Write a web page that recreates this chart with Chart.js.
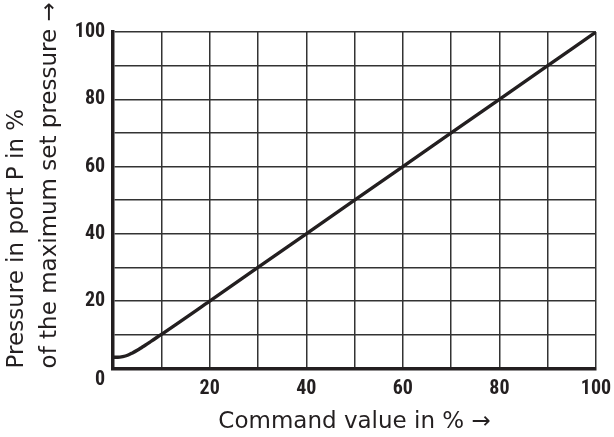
<!DOCTYPE html>
<html>
<head>
<meta charset="utf-8">
<script src="https://cdn.jsdelivr.net/npm/chart.js@4"></script>
<style>
  html, body { margin: 0; padding: 0; background: #fff; }
  #wrap { width: 614px; height: 437px; }
</style>
</head>
<body>
<div id="wrap"><canvas id="myChart"></canvas></div>
<script>
// command value (x) and pressure (y), both in %
const commandValues = [0, 1, 2, 3, 4, 5, 6, 7, 8, 10, 20, 30, 40, 50, 60, 70, 80, 90, 100];
const pressureValues = [3.3, 3.3, 3.5, 3.9, 4.6, 5.4, 6.3, 7.2, 8.2, 10.1, 20, 30, 40, 50, 60, 70, 80, 90, 100];
const tickLabels = ['0', '20', '40', '60', '80', '100'];

const ink = '#231f20';
const tickFont = { family: "'Roboto Condensed', sans-serif", size: 20, weight: 'bold' };
const titleFamily = "'DejaVu Sans', sans-serif";

function tickText(value, isY) {
    const s = String(value);
    if (!tickLabels.includes(s)) return '';
    if (value === 0) return isY ? ['', '0'] : '';
    return s;
}

const points = commandValues.map(function (x, i) { return { x: x, y: pressureValues[i] }; });

new Chart(document.getElementById('myChart'), {
    type: 'line',
    data: {
        datasets: [{
            data: points,
            borderColor: ink,
            borderWidth: 3.4,
            pointRadius: 0,
            cubicInterpolationMode: 'monotone',
            fill: false
        }]
    },
    options: {
        responsive: true,
        maintainAspectRatio: false,
        animation: false,
        layout: { padding: { top: 32, right: 0, left: 0, bottom: 1 } },
        plugins: { legend: { display: false }, tooltip: { enabled: false } },
        scales: {
            x: {
                type: 'linear',
                min: 0,
                max: 100,
                // the "100" label may stick out past the canvas edge less than Chart.js assumes
                afterFit: function (scale) { scale.paddingRight = 18; },
                ticks: {
                    stepSize: 10,
                    autoSkip: false,
                    maxRotation: 0,
                    color: ink,
                    font: tickFont,
                    padding: 9,
                    callback: function (v) { return tickText(v, false); }
                },
                grid: { color: '#333', lineWidth: 1.5, drawTicks: false },
                border: { color: ink, width: 3.5 },
                title: {
                    display: true,
                    text: 'Command value in % \u2192',
                    color: ink,
                    font: { family: titleFamily, size: 23 },
                    padding: { top: -2, bottom: 0 }
                }
            },
            y: {
                min: 0,
                max: 100,
                ticks: {
                    stepSize: 10,
                    autoSkip: false,
                    color: ink,
                    font: tickFont,
                    padding: 8,
                    callback: function (v) { return tickText(v, true); }
                },
                grid: { color: '#333', lineWidth: 1.5, drawTicks: false },
                border: { color: ink, width: 3.5 },
                title: {
                    display: true,
                    align: 'start',
                    text: ['Pressure in port P in %', 'of the maximum set pressure \u2192'],
                    color: ink,
                    font: { family: titleFamily, size: 23, lineHeight: 1.43 },
                    padding: { top: 1, bottom: 0 }
                }
            }
        }
    }
});
</script>
</body>
</html>
